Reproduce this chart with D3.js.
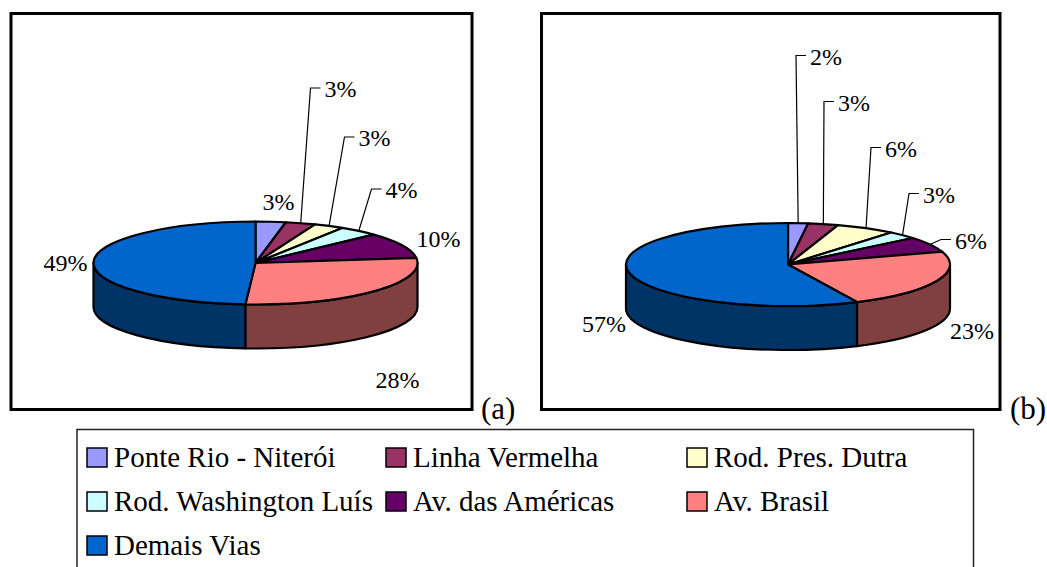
<!DOCTYPE html>
<html>
<head>
<meta charset="utf-8">
<script src="https://cdn.jsdelivr.net/npm/d3@7"></script>
<style>
  html, body { margin: 0; padding: 0; background: #fff; }
  svg { display: block; }
</style>
</head>
<body>
<svg id="chart" width="1047" height="567"></svg>
<script>
// Road categories (legend order = slice order, clockwise from 12 o'clock)
const categories = [
  "Ponte Rio - Niterói",
  "Linha Vermelha",
  "Rod. Pres. Dutra",
  "Rod. Washington Luís",
  "Av. das Américas",
  "Av. Brasil",
  "Demais Vias"
];
// Shares (%) for panel (a) and panel (b)
const valuesA = [3, 3, 3, 4, 10, 28, 49];
const valuesB = [2, 3, 6, 3, 6, 23, 57];
const panelTags = ["(a)", "(b)"];

const colors = ["#9999FF", "#993366", "#FFFFCC", "#CCFFFF", "#660066", "#FF8080", "#0066CC"];

const FONT = "'Liberation Serif', 'Times New Roman', Times, 'DejaVu Serif', 'Noto Serif', serif";

// Label placement per panel: offset of text start / baseline from pie centre, and whether a leader is drawn
const labelLayoutA = [
  { dx: 7,   dy: -53,  leader: false },
  { dx: 69,  dy: -166, leader: true },
  { dx: 103, dy: -117, leader: true },
  { dx: 130, dy: -65,  leader: true },
  { dx: 161, dy: -16,  leader: false },
  { dx: 120, dy: 125,  leader: false },
  { dx: -212, dy: 8,   leader: false }
];
const labelLayoutB = [
  { dx: 22,  dy: -200, leader: true },
  { dx: 50,  dy: -154, leader: true },
  { dx: 97,  dy: -108, leader: true },
  { dx: 135, dy: -62,  leader: true },
  { dx: 167, dy: -16,  leader: true },
  { dx: 162, dy: 74,   leader: false },
  { dx: -206, dy: 67,  leader: false }
];

const svg = d3.select("#chart");

const panels = [
  { values: valuesA, layout: labelLayoutA, box: [11, 13.5, 472, 409.5], cx: 255.5, cy: 263, tag: panelTags[0], tagX: 481 },
  { values: valuesB, layout: labelLayoutB, box: [541.5, 13.5, 1000, 409.5], cx: 788, cy: 264.5, tag: panelTags[1], tagX: 1010 }
];

const rx = 162, ry = 41.5, depth = 44;
const pie = d3.pie().sort(null).value(d => d).startAngle(0).endAngle(2 * Math.PI);

function darken(c) {
  const k = d3.rgb(c);
  return d3.rgb(k.r * 0.5, k.g * 0.5, k.b * 0.5).formatHex();
}

panels.forEach(p => {
  const g = svg.append("g");
  const [x0, y0, x1, y1] = p.box;
  g.append("rect")
    .attr("x", x0).attr("y", y0)
    .attr("width", x1 - x0).attr("height", y1 - y0)
    .attr("fill", "#fff").attr("stroke", "#000").attr("stroke-width", 3);

  const pt = (a, dy = 0) => [p.cx + rx * Math.sin(a), p.cy - ry * Math.cos(a) + dy];
  const arcs = pie(p.values);

  // Visible side walls (front half of the cylinder)
  arcs.forEach((d, i) => {
    const a0 = Math.max(d.startAngle, Math.PI / 2);
    const a1 = Math.min(d.endAngle, 3 * Math.PI / 2);
    if (a1 <= a0) return;
    const s = pt(a0), e = pt(a1), sb = pt(a0, depth), eb = pt(a1, depth);
    const path = `M${s}A${rx},${ry} 0 0 1 ${e}L${eb}A${rx},${ry} 0 0 0 ${sb}Z`;
    g.append("path").attr("d", path)
      .attr("fill", darken(colors[i]))
      .attr("stroke", "#000").attr("stroke-width", 2.2).attr("stroke-linejoin", "round");
  });

  // Top faces
  arcs.forEach((d, i) => {
    const s = pt(d.startAngle), e = pt(d.endAngle);
    const large = (d.endAngle - d.startAngle) > Math.PI ? 1 : 0;
    const path = `M${p.cx},${p.cy}L${s}A${rx},${ry} 0 ${large} 1 ${e}Z`;
    g.append("path").attr("d", path)
      .attr("fill", colors[i])
      .attr("stroke", "#000").attr("stroke-width", 2.2).attr("stroke-linejoin", "round");
  });

  // Percentage labels with leader lines
  arcs.forEach((d, i) => {
    const L = p.layout[i];
    const tx = p.cx + L.dx, ty = p.cy + L.dy;
    if (L.leader) {
      const mid = (d.startAngle + d.endAngle) / 2;
      const edge = pt(mid);
      const ly = ty - 9;
      g.append("polyline")
        .attr("points", `${edge} ${tx - 14},${ly} ${tx - 4},${ly}`)
        .attr("fill", "none").attr("stroke", "#000").attr("stroke-width", 1.2);
    }
    g.append("text")
      .attr("x", tx).attr("y", ty)
      .attr("font-family", FONT)
      .attr("font-size", 24)
      .text(d3.format(".0f")(d.data) + "%");
  });

  svg.append("text")
    .attr("x", p.tagX).attr("y", y1 + 9)
    .attr("font-family", FONT)
    .attr("font-size", 31)
    .text(p.tag);
});

// Legend
const legend = svg.append("g");
legend.append("rect")
  .attr("x", 77).attr("y", 429.5)
  .attr("width", 896.5).attr("height", 160)
  .attr("fill", "#fff").attr("stroke", "#222").attr("stroke-width", 1.5);

const colX = [87, 386, 687];
const rowY = [467, 511, 555];
categories.forEach((c, i) => {
  const x = colX[i % 3], y = rowY[Math.floor(i / 3)];
  legend.append("rect")
    .attr("x", x).attr("y", y - 19)
    .attr("width", 20).attr("height", 19)
    .attr("fill", colors[i]).attr("stroke", "#000").attr("stroke-width", 1.5);
  legend.append("text")
    .attr("x", x + 27).attr("y", y)
    .attr("font-family", FONT)
    .attr("font-size", 29)
    .text(c);
});
</script>
</body>
</html>
